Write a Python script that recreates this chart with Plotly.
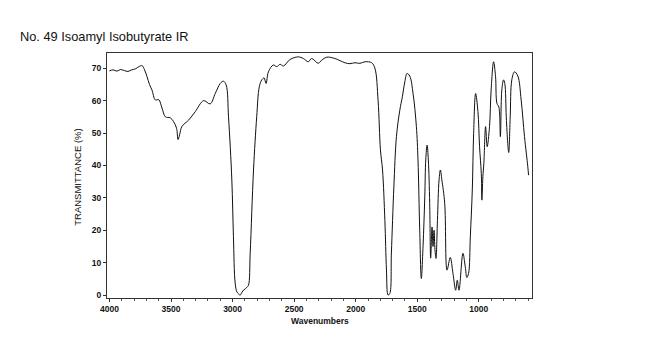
import plotly.graph_objects as go

# Wavenumber (cm-1) and transmittance (%)
wavenumber = [4000, 3970, 3940, 3910, 3880, 3850, 3820, 3790, 3760, 3735, 3715, 3695, 3675, 3655, 3627, 3600,
              3573, 3546, 3506, 3479, 3455, 3443, 3430, 3412, 3357, 3303, 3235, 3182, 3141, 3100, 3074, 3052,
              3033, 3006, 2993, 2979, 2965, 2950, 2938, 2925, 2912, 2895, 2884, 2871, 2857, 2830, 2804, 2783,
              2763, 2744, 2728, 2709, 2669, 2641, 2614, 2587, 2533, 2466, 2425, 2385, 2358, 2304, 2290, 2236,
              2169, 2088, 2047, 2006, 1966, 1925, 1871, 1844, 1818, 1799, 1782, 1763, 1750, 1737, 1723, 1710,
              1690, 1669, 1642, 1621, 1601, 1583, 1561, 1534, 1507, 1494, 1480, 1467, 1453, 1439, 1431, 1420,
              1410, 1399, 1391, 1380, 1372, 1364, 1356, 1348, 1336, 1323, 1312, 1300, 1277, 1258, 1232, 1210,
              1188, 1175, 1161, 1129, 1110, 1097, 1083, 1069, 1053, 1042, 1026, 1007, 994, 980, 975, 967,
              959, 945, 932, 913, 900, 880, 864, 853, 837, 825, 813, 799, 789, 777, 765, 757,
              745, 732, 710, 683, 656, 629, 602, 596]
transmittance = [69.2, 69.5, 69.1, 69.6, 69.3, 69.0, 69.5, 69.8, 70.5, 70.8, 69.5, 67.4, 65.0, 63.3, 60.2, 60.3,
                 57.7, 55.0, 54.7, 53.5, 51.5, 48.0, 49.5, 52.0, 54.0, 56.6, 60.0, 59.0, 62.2, 65.3, 66.0, 64.8,
                 55.0, 35.5, 18.0, 3.7, 1.0, 0.3, 0.0, 0.8, 1.5, 2.0, 2.4, 3.0, 13.0, 38.6, 55.0, 64.3,
                 66.4, 67.0, 65.3, 68.9, 71.0, 70.5, 71.2, 70.7, 72.7, 73.5, 73.0, 72.0, 73.0, 71.5, 72.0, 73.4,
                 73.0, 71.7, 71.4, 71.7, 71.5, 72.0, 71.7, 70.0, 60.0, 44.8, 38.6, 23.0, 7.7, 0.0, 0.5, 13.0,
                 33.4, 48.9, 57.0, 61.2, 65.8, 68.4, 67.6, 62.2, 52.0, 41.7, 20.0, 5.1, 15.0, 30.3, 41.7, 46.3,
                 41.7, 28.3, 11.4, 21.0, 15.0, 20.0, 14.0, 11.3, 23.0, 35.5, 38.6, 35.5, 28.3, 7.7, 11.6, 6.7,
                 1.5, 4.6, 1.5, 12.9, 8.7, 5.4, 6.7, 18.0, 32.4, 49.9, 62.2, 56.6, 45.8, 37.6, 29.3, 36.5,
                 40.7, 52.0, 45.8, 52.0, 63.3, 72.0, 67.4, 59.2, 58.0, 48.9, 63.3, 66.4, 65.3, 55.0, 46.8, 44.0,
                 55.0, 66.4, 68.9, 67.6, 60.2, 48.9, 39.6, 37.0]

x_ticks = [4000, 3500, 3000, 2500, 2000, 1500, 1000]
y_ticks = [0, 10, 20, 30, 40, 50, 60, 70]

# target plot box in page pixels (page has an 8px body offset)
OFF = 8
L, R, T, B = 107, 532.5, 53, 298.5
PW, PH = R - L, B - T


def px(xabs):
    return (xabs - L) / PW


def py(yabs):
    return (B - yabs) / PH


fig = go.Figure()
fig.add_trace(go.Scatter(x=wavenumber, y=transmittance, mode="lines",
                         line=dict(color="#111111", width=1), line_shape="spline",
                         hoverinfo="skip", showlegend=False))

tickfont = dict(family="Liberation Sans Narrow, Arial Narrow, Liberation Sans, Arial", size=8.5, color="#111111")

fig.update_layout(
    width=650, height=341,
    margin=dict(l=L - OFF, r=650 - (R - OFF), t=T - OFF, b=341 - (B - OFF), pad=0),
    paper_bgcolor="white", plot_bgcolor="white",
    xaxis=dict(range=[4020, 568], tickvals=x_ticks, ticktext=[f"<b>{v}</b>" for v in x_ticks],
               ticks="outside", ticklen=3, tickcolor="#333333",
               minor=dict(dtick=100, ticks="outside", ticklen=1.5, tickcolor="#555555", showgrid=False),
               showgrid=False, zeroline=False, showline=True, linecolor="#333333", linewidth=1,
               mirror=True, tickfont=tickfont),
    yaxis=dict(range=[-0.9, 74.7], tickvals=y_ticks, ticktext=[f"<b>{v}</b>" for v in y_ticks],
               ticks="outside", ticklen=3, tickcolor="#333333",
               showgrid=False, zeroline=False, showline=True, linecolor="#333333", linewidth=1,
               mirror=True, tickfont=tickfont),
    annotations=[
        dict(text="No. 49 Isoamyl Isobutyrate IR", xref="paper", yref="paper", x=px(18),
             y=py(36.5), xanchor="left", yanchor="middle", showarrow=False,
             font=dict(family="Liberation Sans, Arial", size=12.8, color="#111111")),
        dict(text="TRANSMITTANCE (%)", xref="paper", yref="paper", x=px(78),
             y=py(178), xanchor="center", yanchor="middle", textangle=-90, showarrow=False,
             font=dict(family="Liberation Sans, Arial", size=9.5, color="#111111")),
        dict(text="<b>Wavenumbers</b>", xref="paper", yref="paper", x=px(320),
             y=py(322), xanchor="center", yanchor="middle", showarrow=False,
             font=dict(family="Liberation Sans Narrow, Arial Narrow, Liberation Sans, Arial", size=8.5, color="#111111")),
    ],
)

fig.write_html("out.html")
